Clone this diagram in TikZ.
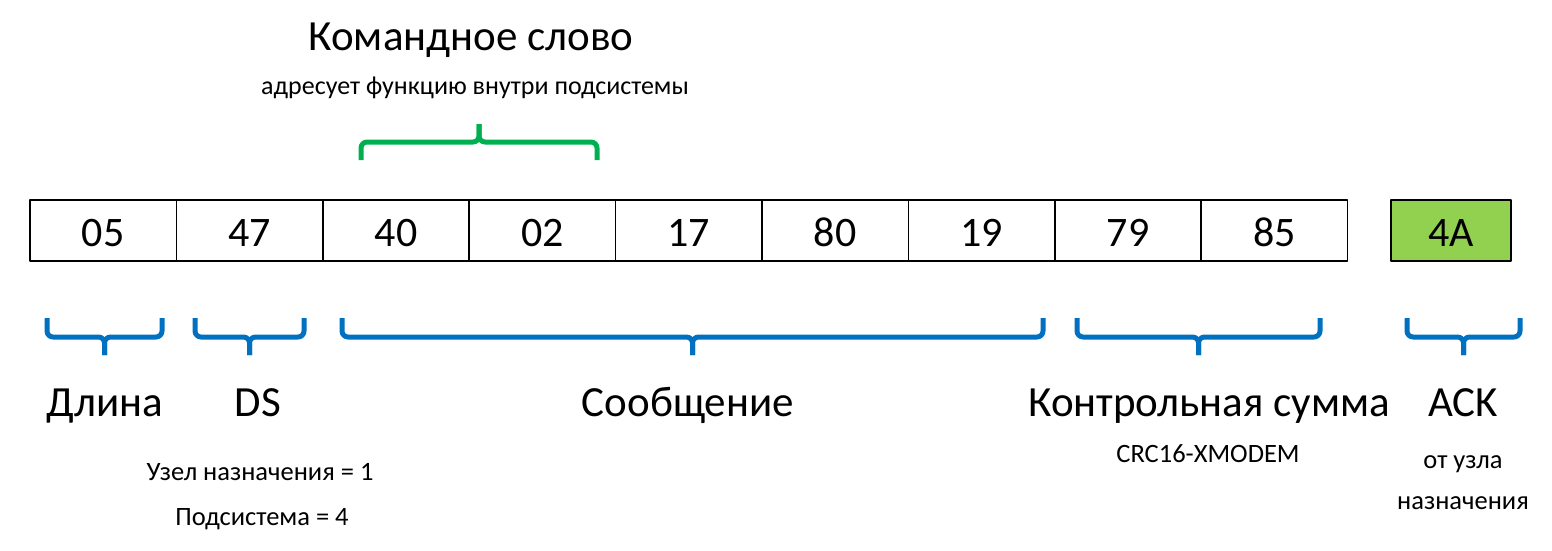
\documentclass[tikz,border=0pt]{standalone}
\usepackage{fontspec}
\setmainfont{Carlito}
\definecolor{braceblue}{RGB}{0,112,192}
\definecolor{bracegreen}{RGB}{0,176,80}
\definecolor{ackgreen}{RGB}{146,208,80}
\begin{document}
\begin{tikzpicture}[x=1pt, y=-1pt, line join=round,
	cell/.style={draw, line width=1.6pt, minimum width=146.4pt, minimum height=61pt, inner sep=0pt, text height=31pt, text depth=0pt, font=\fontsize{42}{46}\selectfont},
	bigtext/.style={anchor=base, inner sep=0pt, font=\fontsize{43}{47}\selectfont},
	smalltext/.style={anchor=base, inner sep=0pt, font=\fontsize{26.5}{30}\selectfont},
	bluebrace/.style={draw=braceblue, line width=5pt, rounded corners=6pt},
	greenbrace/.style={draw=bracegreen, line width=5pt, rounded corners=6pt}]
	\useasboundingbox (0,0) rectangle (1552,551);
	\foreach \v [count=\i] in {05,47,40,02,17,80,19,79,85} \node[cell] (c\i) at ({30+146.4*(\i-0.5)},230.5) {\v};
	\node[cell, fill=ackgreen, minimum width=120pt] (ack) at (1451,230.5) {4A};
	% braces
	\draw[greenbrace] (361,160) -- (361,142) -- (479,142) -- (479,124);
	\draw[greenbrace] (597,160) -- (597,142) -- (479,142) -- (479,124);
	\foreach \a/\b in {47/162, 195/304, 342/1043, 1077/1320, 1407/1520} {
		\draw[bluebrace] (\a,318) -- (\a,337) -- ({(\a+\b)/2},337) -- ({(\a+\b)/2},355);
		\draw[bluebrace] (\b,318) -- (\b,337) -- ({(\a+\b)/2},337) -- ({(\a+\b)/2},355);
	}
	% texts
	\node[bigtext] (cmd) at (471,51) {Командное слово};
	\node[smalltext, font=\fontsize{26}{30}\selectfont] (cmdnote) at (475,94) {адресует функцию внутри подсистемы};
	\node[bigtext] (len) at (105,416) {Длина};
	\node[bigtext] (ds) at (258,416) {DS};
	\node[bigtext] (msg) at (688,416) {Сообщение};
	\node[bigtext] (crc) at (1209,416) {Контрольная сумма};
	\node[bigtext] (ackl) at (1463,416) {ACK};
	\node[smalltext] (crcnote) at (1208,462) {CRC16-XMODEM};
	\node[smalltext] (node) at (260,480) {Узел назначения = 1};
	\node[smalltext] (subsys) at (262,525) {Подсистема = 4};
	\node[smalltext] (ackn1) at (1463,468) {от узла};
	\node[smalltext] (ackn2) at (1463,509) {назначения};
\end{tikzpicture}
\end{document}
